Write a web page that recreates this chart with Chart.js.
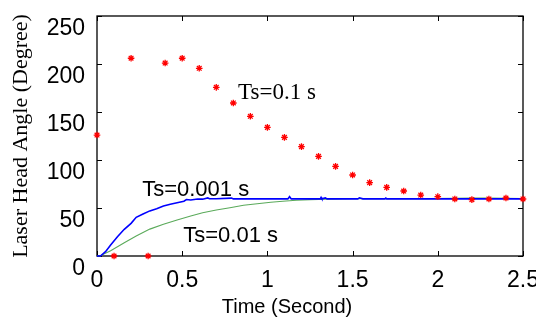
<!DOCTYPE html>
<html>
<head>
<meta charset="utf-8">
<script src="https://cdn.jsdelivr.net/npm/chart.js@4/dist/chart.umd.min.js"></script>
<style>
  html, body { margin: 0; padding: 0; background: #fff; }
  #wrap { width: 536px; height: 320px; }
</style>
</head>
<body>
<div id="wrap"><canvas id="c" width="536" height="320"></canvas></div>
<script>
// ---- data ----
const xTicks = [0, 0.5, 1, 1.5, 2, 2.5];
const xTickLabels = ['0', '0.5', '1', '1.5', '2', '2.5'];
const yTicks = [0, 50, 100, 150, 200, 250];
const yTickLabels = ['0', '50', '100', '150', '200', '250'];

// Ts = 0.1 s (red asterisks)
const redTime  = [0, 0.1, 0.2, 0.3, 0.4, 0.5, 0.6, 0.7, 0.8, 0.9, 1.0, 1.1, 1.2, 1.3, 1.4, 1.5, 1.6, 1.7, 1.8, 1.9, 2.0, 2.1, 2.2, 2.3, 2.4, 2.5];
const redAngle = [126, 0, 206, 0, 201, 206, 195.5, 175.7, 159.4, 145.5, 134, 123.6, 113.9, 103.8, 93.4, 84.4, 76.4, 71.5, 67.7, 63.5, 61.8, 59.4, 58.7, 59.4, 60.4, 59.4];

// Ts = 0.001 s (blue line)
const blueTime  = [0, 0.02, 0.05, 0.08, 0.12, 0.16, 0.20, 0.23, 0.27, 0.31, 0.35, 0.39, 0.43, 0.47, 0.51, 0.525, 0.55, 0.59, 0.62, 0.65, 0.66, 0.70, 0.79, 0.80, 0.90, 1.00, 1.12, 1.13, 1.14, 1.25, 1.31, 1.315, 1.32, 1.34, 1.35, 1.53, 1.54, 1.56, 1.69, 1.695, 1.70, 1.85, 2.0, 2.2, 2.4, 2.5];
const blueAngle = [0, 0, 4.5, 11.5, 20, 27.8, 34, 40.3, 43.7, 47, 49.3, 52, 54, 55.5, 57, 58.8, 58.3, 59.4, 59.2, 60.5, 59.6, 59.6, 60.3, 59.5, 59.5, 59.5, 59.5, 61.8, 59.5, 59.5, 59.5, 61, 59.5, 60.5, 59.5, 59.5, 60.6, 59.5, 59.5, 60.4, 59.5, 59.5, 59.5, 59.5, 59.5, 59.5];

// Ts = 0.01 s (green line)
const greenTime  = [0, 0.02, 0.04, 0.08, 0.16, 0.23, 0.31, 0.39, 0.47, 0.55, 0.62, 0.70, 0.78, 0.86, 0.94, 1.02, 1.09, 1.17, 1.25, 1.35, 1.5, 1.65, 1.8, 1.95, 2.1, 2.2, 2.3, 2.4, 2.5];
const greenAngle = [0, 0, 2, 5.5, 13.9, 20.8, 28, 33, 37.5, 41.7, 45, 48, 50.3, 52.8, 54.5, 56, 57, 58, 58.7, 59.2, 59.6, 59.8, 59.6, 59.8, 60.2, 60.4, 60.3, 60.2, 59.8];

// annotation labels (text + data anchor)
const annotations = [
  { text: 'Ts=0.1 s',   t: 0.828, v: 170,  font: '23px "Liberation Serif", "Times New Roman", serif' },
  { text: 'Ts=0.001 s', t: 0.265, v: 68.7, font: '22px "Liberation Sans", Arial, sans-serif' },
  { text: 'Ts=0.01 s',  t: 0.506, v: 20.8, font: '22px "Liberation Sans", Arial, sans-serif' }
];

const zip = (xs, ys) => xs.map((x, i) => ({ x: x, y: ys[i] }));

const SANS = '"Liberation Sans", Arial, sans-serif';
const SERIF = '"Liberation Serif", "Times New Roman", serif';

const framePlugin = {
  id: 'frame',
  beforeDatasetsDraw(chart) {
    const { ctx, chartArea: a, scales: { x, y } } = chart;
    ctx.save();
    ctx.strokeStyle = '#000';
    ctx.lineWidth = 1.3;
    ctx.strokeRect(a.left, a.top, a.right - a.left, a.bottom - a.top);
    ctx.lineWidth = 1;
    const L = 5;
    ctx.beginPath();
    xTicks.forEach(v => {
      const px = Math.round(x.getPixelForValue(v)) + 0.5;
      ctx.moveTo(px, a.bottom); ctx.lineTo(px, a.bottom - L);
      ctx.moveTo(px, a.top); ctx.lineTo(px, a.top + L);
    });
    yTicks.forEach(v => {
      const py = Math.round(y.getPixelForValue(v)) + 0.5;
      ctx.moveTo(a.left, py); ctx.lineTo(a.left + L, py);
      ctx.moveTo(a.right, py); ctx.lineTo(a.right - L, py);
    });
    ctx.stroke();
    ctx.restore();
  },
  afterDraw(chart) {
    const { ctx, scales: { x, y } } = chart;
    ctx.save();
    ctx.fillStyle = '#000';
    ctx.textBaseline = 'middle';
    ctx.textAlign = 'left';
    annotations.forEach(an => {
      ctx.font = an.font;
      ctx.fillText(an.text, x.getPixelForValue(an.t), y.getPixelForValue(an.v));
    });
    // x axis title
    ctx.font = '20px ' + SANS;
    ctx.textAlign = 'center';
    ctx.fillText('Time (Second)', 287, 307);
    ctx.restore();
  }
};

new Chart(document.getElementById('c'), {
  type: 'scatter',
  data: {
    datasets: [
      {
        label: 'Ts=0.1 s',
        data: zip(redTime, redAngle),
        showLine: false,
        pointStyle: 'star',
        pointRadius: 3.3,
        pointBorderWidth: 1.3,
        borderColor: '#ff0000',
        backgroundColor: '#ff0000',
        clip: false
      },
      {
        label: 'Ts=0.001 s',
        data: zip(blueTime, blueAngle),
        showLine: true,
        borderColor: '#0000ff',
        borderWidth: 1.6,
        pointRadius: 0,
        tension: 0,
        clip: false
      },
      {
        label: 'Ts=0.01 s',
        data: zip(greenTime, greenAngle),
        showLine: true,
        borderColor: '#5aaa5a',
        borderWidth: 1.1,
        pointRadius: 0,
        tension: 0,
        clip: false
      }
    ]
  },
  options: {
    responsive: false,
    animation: false,
    devicePixelRatio: 1,
    layout: { padding: { left: 0, right: 13, top: 16, bottom: 0 } },
    plugins: { legend: { display: false }, tooltip: { enabled: false } },
    scales: {
      x: {
        type: 'linear',
        min: 0, max: 2.5,
        afterBuildTicks: s => { s.ticks = xTicks.map(v => ({ value: v })); },
        grid: { display: false, drawTicks: false },
        border: { display: false },
        ticks: {
          padding: 11, color: '#000', font: { family: SANS, size: 23 }, maxRotation: 0, autoSkip: false,
          callback: (v, i) => xTickLabels[i]
        },
        afterFit: s => { s.height = 64; s.paddingLeft = 0; s.paddingRight = 0; }
      },
      y: {
        min: 0, max: 250,
        afterBuildTicks: s => { s.ticks = yTicks.map(v => ({ value: v })); },
        grid: { display: false, drawTicks: false },
        border: { display: false },
        ticks: {
          padding: 12, labelOffset: 13, color: '#000', font: { family: SANS, size: 23 },
          callback: (v, i) => yTickLabels[i]
        },
        title: {
          display: true,
          text: 'Laser Head Angle (Degree)',
          color: '#000',
          font: { family: SERIF, size: 22 },
          padding: { top: 8, bottom: 0 }
        },
        afterFit: s => { s.width = 97; s.paddingTop = 0; s.paddingBottom = 0; }
      }
    }
  },
  plugins: [framePlugin]
});
</script>
</body>
</html>
